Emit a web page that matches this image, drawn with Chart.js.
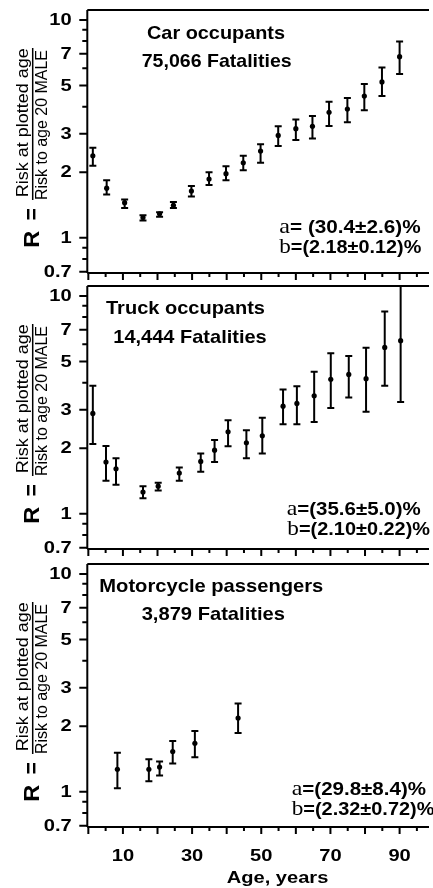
<!DOCTYPE html>
<html>
<head>
<meta charset="utf-8">
<script src="https://cdn.jsdelivr.net/npm/chart.js@4.4.1/dist/chart.umd.min.js"></script>
<style>
  html, body { margin: 0; padding: 0; background: #fff; overflow: hidden; }
  #wrap { position: relative; width: 433px; height: 888px; }
  canvas { position: absolute; left: 0; }
</style>
</head>
<body>
<div id="wrap">
  <canvas id="car" width="433" height="282" style="top:0px"></canvas>
  <canvas id="truck" width="433" height="282" style="top:276px"></canvas>
  <canvas id="moto" width="433" height="334" style="top:554px"></canvas>
</div>
<script>
// ---- data (age, R, lower and upper end of error bar) ----
const carAge = [1.3, 5.3, 10.5, 15.8, 20.6, 24.6, 29.8, 34.9, 39.8, 44.8, 49.8, 54.9, 60, 64.8, 69.6, 74.9, 79.8, 84.9, 90];
const carR   = [2.38, 1.69, 1.45, 1.24, 1.29, 1.41, 1.64, 1.86, 1.97, 2.21, 2.50, 2.95, 3.17, 3.25, 3.77, 3.90, 4.47, 5.19, 6.78];
const carLo  = [2.14, 1.58, 1.37, 1.20, 1.25, 1.37, 1.55, 1.75, 1.84, 2.04, 2.21, 2.64, 2.81, 2.86, 3.26, 3.39, 3.85, 4.47, 5.64];
const carHi  = [2.59, 1.84, 1.50, 1.27, 1.31, 1.46, 1.73, 2.00, 2.13, 2.38, 2.69, 3.25, 3.49, 3.62, 4.21, 4.38, 5.08, 6.04, 7.95];

const truckAge = [1.3, 5.1, 8.0, 15.8, 20.2, 26.3, 32.5, 36.5, 40.4, 45.7, 50.3, 56.3, 60.3, 65.3, 70.1, 75.3, 80.3, 85.7, 90.3];
const truckR   = [2.89, 1.73, 1.61, 1.26, 1.34, 1.54, 1.74, 1.96, 2.38, 2.12, 2.28, 3.12, 3.21, 3.48, 4.14, 4.36, 4.17, 5.80, 6.23];
const truckLo  = [2.09, 1.42, 1.36, 1.18, 1.28, 1.42, 1.56, 1.73, 2.04, 1.80, 1.89, 2.58, 2.58, 2.64, 3.06, 3.42, 2.94, 3.87, 3.26];
const truckHi  = [3.87, 2.05, 1.80, 1.34, 1.39, 1.63, 1.89, 2.18, 2.69, 2.42, 2.76, 3.72, 3.85, 4.49, 5.45, 5.30, 5.78, 8.47, 12];

const motoAge = [8.4, 17.5, 20.6, 24.4, 30.8, 43.3];
const motoR   = [1.27, 1.27, 1.30, 1.53, 1.67, 2.18];
const motoLo  = [1.04, 1.12, 1.19, 1.35, 1.44, 1.86];
const motoHi  = [1.51, 1.41, 1.38, 1.71, 1.90, 2.54];

// ---- axes ----
const xMin = -0.3, xMax = 98.5;
const yMin = 0.69, yMax = 11.1;
const xMajorTicks = [0, 10, 20, 30, 40, 50, 60, 70, 80, 90];
const xMinorTicks = [5, 15, 25, 35, 45, 55, 65, 75, 85, 95];
const xTickLabels = [10, 30, 50, 70, 90];
const yMajorTicks = [0.7, 1, 2, 3, 5, 7, 10];
const yMinorTicks = [0.8, 0.9, 4, 6, 8, 9];

const SANS = '"Liberation Sans", Arial, sans-serif';
const SERIF = '"Liberation Serif", "Times New Roman", serif';

// draw text made of parts, squeezed/stretched to a given width
function fitText(ctx, parts, x, y, width, align) {
  let total = 0;
  parts.forEach(p => { ctx.font = p.font; p.w = ctx.measureText(p.t).width; total += p.w; });
  const sx = width / total;
  ctx.save();
  ctx.translate(x, y);
  ctx.scale(sx, 1);
  let cx = align === 'center' ? -total / 2 : (align === 'right' ? -total : 0);
  ctx.textAlign = 'left';
  ctx.textBaseline = 'alphabetic';
  parts.forEach(p => { ctx.font = p.font; ctx.fillText(p.t, cx, 0); cx += p.w; });
  ctx.restore();
}

function wideText(ctx, t, font, x, y, sx, align, baseline) {
  ctx.save();
  ctx.translate(x, y);
  ctx.scale(sx, 1);
  ctx.font = font;
  ctx.textAlign = align;
  ctx.textBaseline = baseline;
  ctx.fillText(t, 0, 0);
  ctx.restore();
}

const decor = {
  id: 'decor',
  afterDatasetsDraw(chart, args, opts) {
    const { ctx, chartArea: a, scales: { x, y } } = chart;
    ctx.save();
    ctx.fillStyle = '#000';
    ctx.strokeStyle = '#000';

    // error bars
    ctx.save();
    ctx.beginPath();
    ctx.rect(a.left, a.top, a.right - a.left, a.bottom - a.top);
    ctx.clip();
    ctx.lineWidth = 2;
    ctx.beginPath();
    opts.ages.forEach((age, i) => {
      const px = x.getPixelForValue(age);
      const p1 = y.getPixelForValue(opts.lo[i]);
      const p2 = y.getPixelForValue(opts.hi[i]);
      ctx.moveTo(px, p1); ctx.lineTo(px, p2);
      ctx.moveTo(px - 3.5, p1); ctx.lineTo(px + 3.5, p1);
      ctx.moveTo(px - 3.5, p2); ctx.lineTo(px + 3.5, p2);
    });
    ctx.stroke();
    ctx.restore();

    // frame: left axis, bottom axis, top border
    ctx.lineWidth = 2;
    ctx.beginPath();
    ctx.moveTo(a.left, a.top); ctx.lineTo(a.left, a.bottom);
    ctx.moveTo(a.left, a.bottom); ctx.lineTo(a.right, a.bottom);
    ctx.moveTo(a.left, a.top); ctx.lineTo(a.right, a.top);
    ctx.stroke();

    // tick marks
    ctx.beginPath();
    yMajorTicks.forEach(v => { const py = y.getPixelForValue(v); ctx.moveTo(a.left - 8, py); ctx.lineTo(a.left, py); });
    yMinorTicks.forEach(v => { const py = y.getPixelForValue(v); ctx.moveTo(a.left - 5, py); ctx.lineTo(a.left, py); });
    xMajorTicks.forEach(v => { const px = x.getPixelForValue(v); ctx.moveTo(px, a.bottom); ctx.lineTo(px, a.bottom + 7); });
    xMinorTicks.forEach(v => { const px = x.getPixelForValue(v); ctx.moveTo(px, a.bottom); ctx.lineTo(px, a.bottom + 4); });
    ctx.stroke();

    // y tick labels
    yMajorTicks.forEach(v => {
      wideText(ctx, String(v), 'bold 16.5px ' + SANS, 71.7, y.getPixelForValue(v) + 0.5, 1.22, 'right', 'middle');
    });

    // x tick labels only on the bottom panel
    if (opts.bottom) {
      xTickLabels.forEach(v => {
        wideText(ctx, String(v), 'bold 16.5px ' + SANS, x.getPixelForValue(v), 307, 1.22, 'center', 'alphabetic');
      });
      fitText(ctx, [{ t: 'Age, years', font: 'bold 16px ' + SANS }], 277.5, 328.7, 101.6, 'center');
    }

    // y axis title: R = numerator / denominator, rotated
    ctx.save();
    ctx.translate(39.3, 239.2);
    ctx.rotate(-Math.PI / 2);
    fitText(ctx, [{ t: 'R', font: 'bold 22px ' + SANS }], 0, 0, 17, 'center');
    ctx.restore();
    ctx.save();
    ctx.translate(39.3, 214.2);
    ctx.rotate(-Math.PI / 2);
    fitText(ctx, [{ t: '=', font: 'bold 22px ' + SANS }], 0, 0, 12, 'center');
    ctx.restore();
    ctx.save();
    ctx.translate(28.2, 122.8);
    ctx.rotate(-Math.PI / 2);
    fitText(ctx, [{ t: 'Risk at plotted age', font: '17px ' + SANS }], 0, 0, 149, 'center');
    ctx.restore();
    ctx.save();
    ctx.translate(47, 125);
    ctx.rotate(-Math.PI / 2);
    fitText(ctx, [{ t: 'Risk to age 20 MALE', font: '16px ' + SANS }], 0, 0, 150, 'center');
    ctx.restore();
    ctx.lineWidth = 1.5;
    ctx.beginPath();
    ctx.moveTo(32.7, 48); ctx.lineTo(32.7, 200);
    ctx.stroke();

    // panel titles
    opts.titles.forEach(t => {
      fitText(ctx, [{ t: t.t, font: 'bold 19px ' + SANS }], t.x, t.y, t.w, 'center');
    });
    // fit parameters
    opts.fits.forEach(f => {
      fitText(ctx, [
        { t: f.letter, font: '21px ' + SERIF },
        { t: f.rest, font: 'bold 18px ' + SANS }
      ], f.x, f.y, f.w, 'left');
    });
    ctx.restore();
  }
};

function makePanel(id, ages, vals, lo, hi, titles, fits, bottom) {
  const canvas = document.getElementById(id);
  const h = canvas.height;
  return new Chart(canvas, {
    type: 'scatter',
    data: {
      datasets: [{
        data: ages.map((a, i) => ({ x: a, y: vals[i] })),
        pointRadius: 2.6,
        pointBackgroundColor: '#000',
        pointBorderWidth: 0,
        showLine: false
      }]
    },
    options: {
      responsive: false,
      animation: false,
      devicePixelRatio: 1,
      layout: { padding: { top: 10, left: 0, right: 0, bottom: 0 } },
      plugins: {
        legend: { display: false },
        tooltip: { enabled: false },
        decor: { ages: ages, lo: lo, hi: hi, titles: titles, fits: fits, bottom: bottom }
      },
      scales: {
        x: {
          type: 'linear', min: xMin, max: xMax,
          grid: { display: false }, ticks: { display: false }, border: { display: false },
          afterFit: s => { s.height = h - 273; }
        },
        y: {
          type: 'logarithmic', min: yMin, max: yMax,
          grid: { display: false }, ticks: { display: false }, border: { display: false },
          afterFit: s => { s.width = 87.3; }
        }
      }
    },
    plugins: [decor]
  });
}

makePanel('car', carAge, carR, carLo, carHi,
  [{ t: 'Car occupants', x: 216, y: 39.3, w: 138 }, { t: '75,066 Fatalities', x: 216.7, y: 66.7, w: 150 }],
  [{ letter: 'a', rest: '= (30.4±2.6)%', x: 279.3, y: 233.3, w: 141.3 },
   { letter: 'b', rest: '=(2.18±0.12)%', x: 279.3, y: 253.3, w: 142 }], false);

makePanel('truck', truckAge, truckR, truckLo, truckHi,
  [{ t: 'Truck occupants', x: 185.5, y: 37.5, w: 159 }, { t: '14,444 Fatalities', x: 190, y: 66.5, w: 153.4 }],
  [{ letter: 'a', rest: '=(35.6±5.0)%', x: 286.7, y: 239, w: 134 },
   { letter: 'b', rest: '=(2.10±0.22)%', x: 287.3, y: 259, w: 142.7 }], false);

makePanel('moto', motoAge, motoR, motoLo, motoHi,
  [{ t: 'Motorcycle passengers', x: 211.3, y: 37.7, w: 224 }, { t: '3,879 Fatalities', x: 213.3, y: 65.5, w: 143.3 }],
  [{ letter: 'a', rest: '=(29.8±8.4)%', x: 291.7, y: 241, w: 134.3 },
   { letter: 'b', rest: '=(2.32±0.72)%', x: 291.7, y: 261, w: 142.7 }], true);
</script>
</body>
</html>
